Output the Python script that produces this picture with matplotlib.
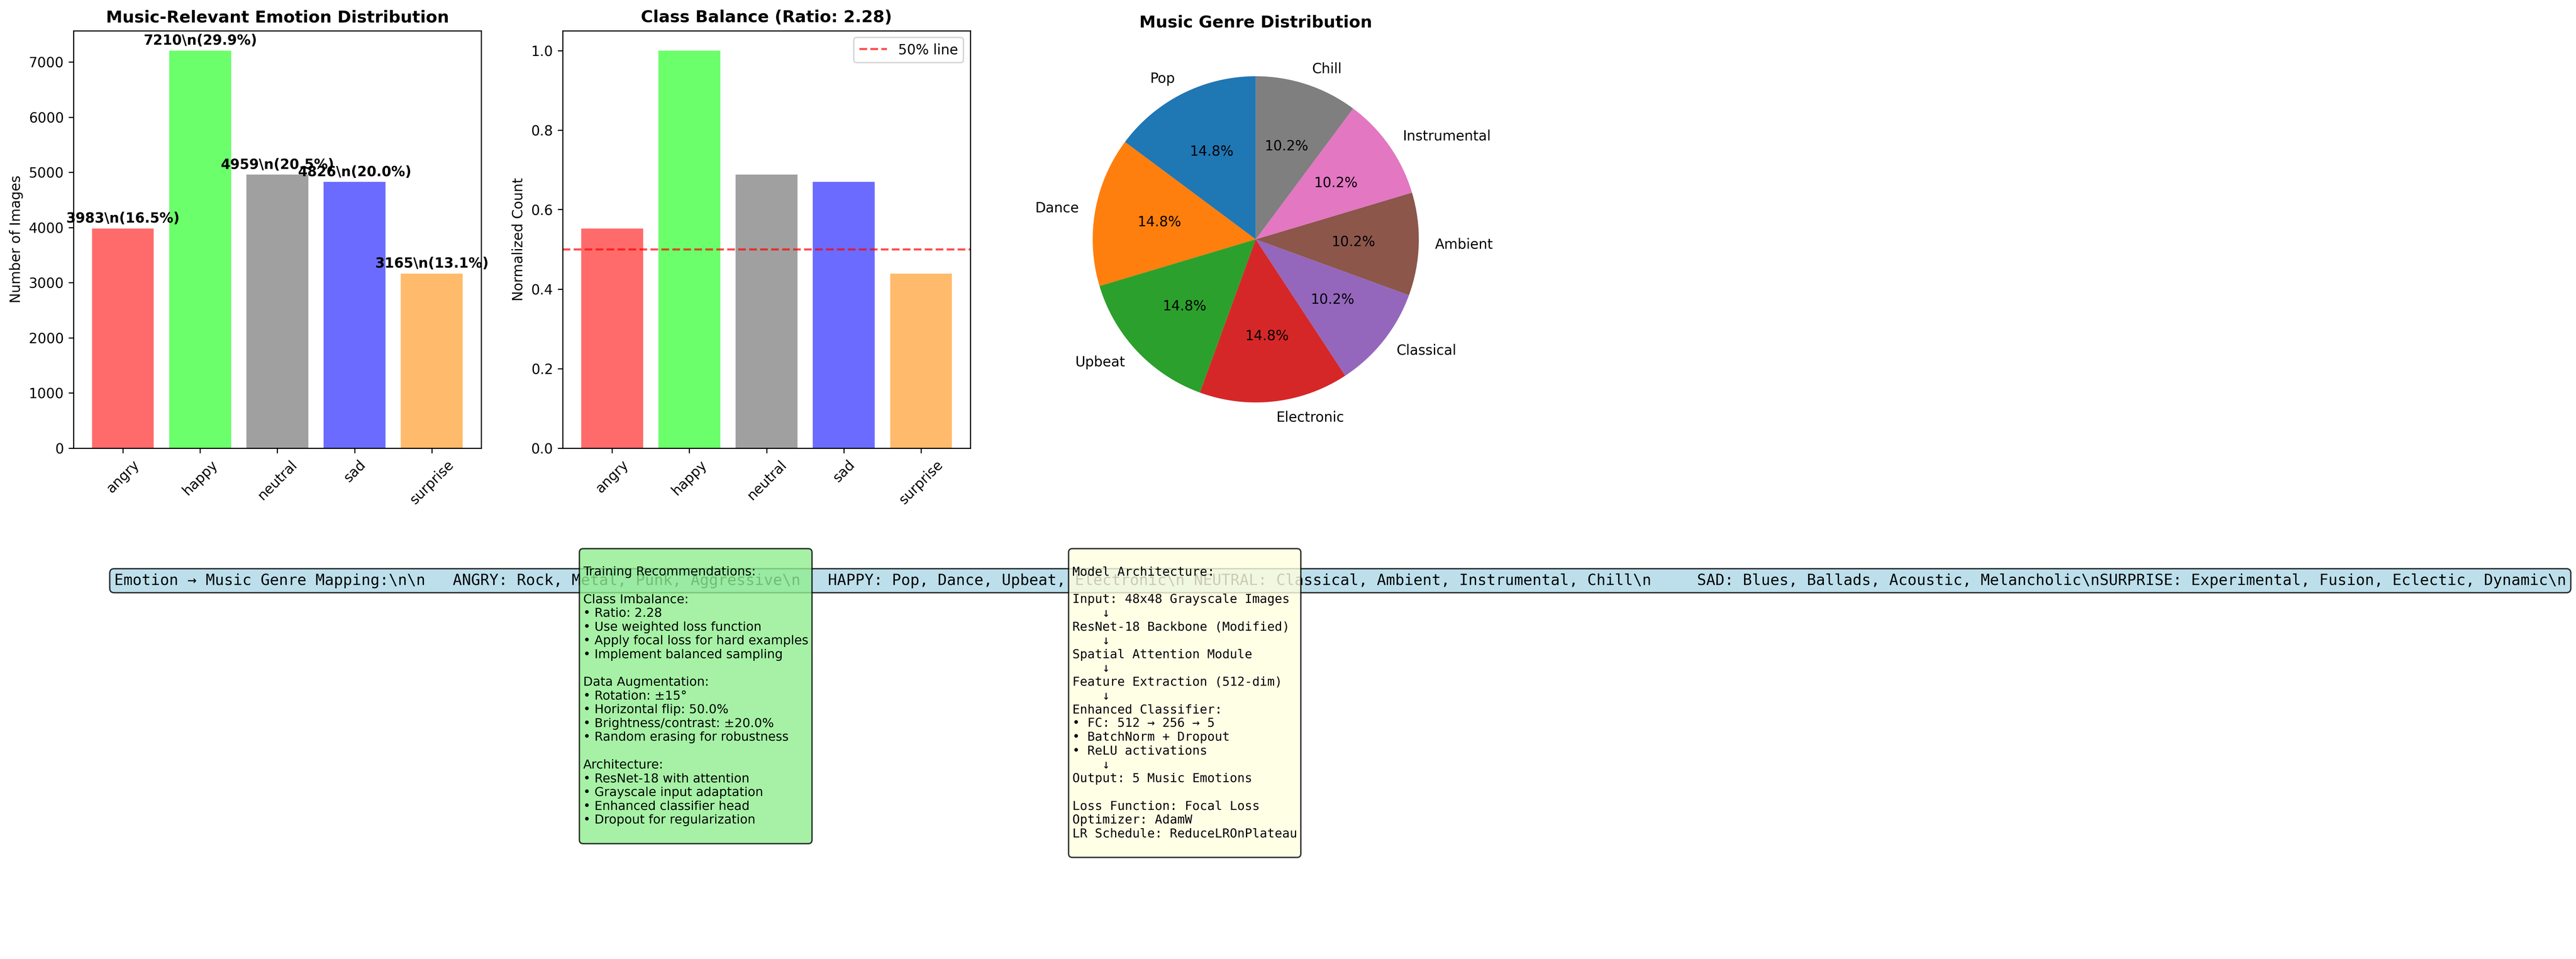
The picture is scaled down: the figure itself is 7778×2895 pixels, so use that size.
import matplotlib
matplotlib.use("Agg")
import matplotlib.pyplot as plt

# ---------------- data ----------------
emotions = ["angry", "happy", "neutral", "sad", "surprise"]
counts = [3983, 7210, 4959, 4826, 3165]
bar_colors = ["#FF6B6B", "#6BFF6B", "#A0A0A0", "#6B6BFF", "#FFBB6B"]

genres = ["Pop", "Dance", "Upbeat", "Electronic",
          "Classical", "Ambient", "Instrumental", "Chill"]
genre_values = [7210, 7210, 7210, 7210, 4959, 4959, 4959, 4959]

balance_ratio = max(counts) / min(counts)

mapping_text = ("Emotion \u2192 Music Genre Mapping:\\n\\n"
                "   ANGRY: Rock, Metal, Punk, Aggressive\\n"
                "   HAPPY: Pop, Dance, Upbeat, Electronic\\n"
                " NEUTRAL: Classical, Ambient, Instrumental, Chill\\n"
                "     SAD: Blues, Ballads, Acoustic, Melancholic\\n"
                "SURPRISE: Experimental, Fusion, Eclectic, Dynamic\\n")

training_text = f"""
Training Recommendations:

Class Imbalance:
\u2022 Ratio: {balance_ratio:.2f}
\u2022 Use weighted loss function
\u2022 Apply focal loss for hard examples
\u2022 Implement balanced sampling

Data Augmentation:
\u2022 Rotation: \u00b115\u00b0
\u2022 Horizontal flip: 50.0%
\u2022 Brightness/contrast: \u00b120.0%
\u2022 Random erasing for robustness

Architecture:
\u2022 ResNet-18 with attention
\u2022 Grayscale input adaptation
\u2022 Enhanced classifier head
\u2022 Dropout for regularization
"""

arch_text = """
Model Architecture:

Input: 48x48 Grayscale Images
    \u2193
ResNet-18 Backbone (Modified)
    \u2193
Spatial Attention Module
    \u2193
Feature Extraction (512-dim)
    \u2193
Enhanced Classifier:
\u2022 FC: 512 \u2192 256 \u2192 5
\u2022 BatchNorm + Dropout
\u2022 ReLU activations
    \u2193
Output: 5 Music Emotions

Loss Function: Focal Loss
Optimizer: AdamW
LR Schedule: ReduceLROnPlateau
"""

# ---------------- layout ----------------
W, H = 7778, 2895
DPI = 300
fig = plt.figure(figsize=(W / DPI, H / DPI), dpi=DPI)

AX_W, AX_H = 1230.9, 1260.0
lefts = [222.0, 1699.1, 3176.2]
tops = [92.5, 1604.5]


def px_axes(col, row):
    l = lefts[col]
    t = tops[row]
    return fig.add_axes([l / W, 1 - (t + AX_H) / H, AX_W / W, AX_H / H])


# ---- 1: emotion distribution ----
ax1 = px_axes(0, 0)
total = sum(counts)
bars = ax1.bar(emotions, counts, color=bar_colors)
ax1.set_title("Music-Relevant Emotion Distribution", fontsize=12, fontweight="bold")
ax1.set_ylabel("Number of Images")
ax1.tick_params(axis="x", rotation=45)
for b, c in zip(bars, counts):
    ax1.text(b.get_x() + b.get_width() / 2, b.get_height() + 50,
             f"{c}\\n({c / total * 100:.1f}%)",
             ha="center", va="bottom", fontweight="bold")

# ---- 2: class balance ----
ax2 = px_axes(1, 0)
norm = [c / max(counts) for c in counts]
ax2.bar(emotions, norm, color=bar_colors)
ax2.axhline(y=0.5, color="red", linestyle="--", alpha=0.7, label="50% line")
ax2.set_title(f"Class Balance (Ratio: {balance_ratio:.2f})", fontsize=12, fontweight="bold")
ax2.set_ylabel("Normalized Count")
ax2.tick_params(axis="x", rotation=45)
ax2.legend(loc="upper right")

# ---- 3: genre pie ----
ax3 = px_axes(2, 0)
ax3.pie(genre_values, labels=genres, autopct="%1.1f%%", startangle=90)
ax3.set_title("Music Genre Distribution", fontsize=12, fontweight="bold")

# ---- bottom row: text panels ----
ax4 = px_axes(0, 1)
ax4.axis("off")
ax4.text(0.1, 0.9, mapping_text, transform=ax4.transAxes, fontsize=11,
         va="top", ha="left", family="monospace",
         bbox=dict(boxstyle="round", facecolor="lightblue", alpha=0.8))

ax5 = px_axes(1, 1)
ax5.axis("off")
ax5.text(0.05, 0.95, training_text, transform=ax5.transAxes, fontsize=9,
         va="top", ha="left",
         bbox=dict(boxstyle="round", facecolor="lightgreen", alpha=0.8))

ax6 = px_axes(2, 1)
ax6.axis("off")
ax6.text(0.05, 0.95, arch_text, transform=ax6.transAxes, fontsize=9,
         va="top", ha="left", family="monospace",
         bbox=dict(boxstyle="round", facecolor="lightyellow", alpha=0.8))

fig.savefig("out.png", dpi=DPI)
